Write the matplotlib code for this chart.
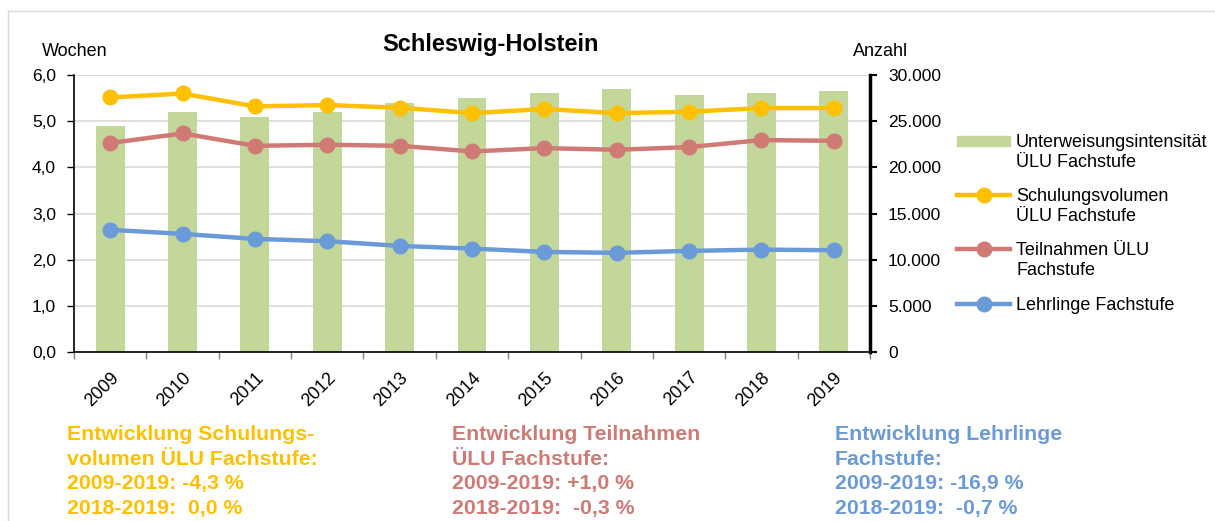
import numpy as np
import matplotlib
matplotlib.use("Agg")
import matplotlib.pyplot as plt
from matplotlib.lines import Line2D
from matplotlib.patches import Rectangle
from matplotlib.ticker import FuncFormatter

plt.rcParams["font.family"] = ["Liberation Sans", "DejaVu Sans"]

YEARS = [2009, 2010, 2011, 2012, 2013, 2014, 2015, 2016, 2017, 2018, 2019]
INTENSITAET = [4.9, 5.2, 5.1, 5.2, 5.4, 5.5, 5.6, 5.7, 5.57, 5.6, 5.65]
SCHULUNGSVOLUMEN = [27570, 28000, 26600, 26750, 26460, 25880, 26320, 25880, 26030, 26420, 26420]
TEILNAHMEN = [22640, 23680, 22340, 22450, 22340, 21730, 22090, 21910, 22200, 22960, 22880]
LEHRLINGE = [13250, 12810, 12270, 12020, 11510, 11220, 10860, 10760, 10970, 11110, 11040]

LEGEND_LABELS = [
    "Unterweisungsintensität\nÜLU Fachstufe",
    "Schulungsvolumen\nÜLU Fachstufe",
    "Teilnahmen ÜLU\nFachstufe",
    "Lehrlinge Fachstufe",
]
NOTES = [
    "Entwicklung Schulungs-\nvolumen ÜLU Fachstufe:\n2009-2019: -4,3 %\n2018-2019:  0,0 %",
    "Entwicklung Teilnahmen\nÜLU Fachstufe:\n2009-2019: +1,0 %\n2018-2019:  -0,3 %",
    "Entwicklung Lehrlinge\nFachstufe:\n2009-2019: -16,9 %\n2018-2019:  -0,7 %",
]

GREEN = "#C4D79B"
YELLOW = "#FFC000"
RED = "#D07A75"
BLUE = "#6A9BD8"

W, H = 1215, 521


def fx(px):
    return px / W


def fy(py):
    return 1 - py / H


fig = plt.figure(figsize=(W / 100, H / 100), dpi=100)
ax = fig.add_axes([fx(74), fy(352.3), fx(870) - fx(74), fy(75) - fy(352.3)])
ax2 = ax.twinx()

x = np.arange(len(YEARS))

# bars on the left axis (weeks)
ax.bar(x, INTENSITAET, width=0.4, color=GREEN, zorder=2)
ax.set_ylim(0, 6)
ax.set_xlim(-0.5, len(YEARS) - 0.5)
ax.set_yticks(np.arange(0, 6.1, 1))
ax.yaxis.set_major_formatter(FuncFormatter(lambda v, p: f"{v:.1f}".replace(".", ",")))
ax.grid(axis="y", color="#D9D9D9", linewidth=1.2, zorder=0)
ax.set_axisbelow(True)

# category boundaries as ticks, labels at centres
ax.set_xticks(np.arange(-0.5, len(YEARS), 1))
ax.set_xticklabels([])
ax.tick_params(axis="x", which="major", length=5, color="#808080", width=1)
ax.set_xticks(x, minor=True)
ax.set_xticklabels([str(y) for y in YEARS], minor=True, rotation=45,
                   ha="right", va="top", rotation_mode="anchor", fontsize=13)
ax.tick_params(axis="x", which="minor", length=0, pad=12)
ax.tick_params(axis="y", length=5, width=1, labelsize=12.5, pad=8)

for s in ["top", "right"]:
    ax.spines[s].set_visible(False)
ax.spines["left"].set_linewidth(1.2)
ax.spines["bottom"].set_linewidth(1.2)

# lines on the right axis (counts)
lw, ms = 3.2, 10.5
ax2.plot(x, SCHULUNGSVOLUMEN, color=YELLOW, lw=lw, marker="o", ms=ms, zorder=3)
ax2.plot(x, TEILNAHMEN, color=RED, lw=lw, marker="o", ms=ms, zorder=3)
ax2.plot(x, LEHRLINGE, color=BLUE, lw=lw, marker="o", ms=ms, zorder=3)
ax2.set_ylim(0, 30000)
ax2.set_yticks(np.arange(0, 30001, 5000))
ax2.yaxis.set_major_formatter(FuncFormatter(lambda v, p: f"{int(v):,}".replace(",", ".")))
ax2.tick_params(axis="y", length=5, width=1.5, labelsize=12.5, pad=8)
for s in ["top", "left", "bottom"]:
    ax2.spines[s].set_visible(False)
ax2.spines["right"].set_linewidth(2.5)

# titles and axis captions
fig.text(fx(491), fy(44), "Schleswig-Holstein", ha="center", va="center",
         fontsize=17, fontweight="bold")
fig.text(fx(42), fy(51), "Wochen", ha="left", va="center", fontsize=13)
fig.text(fx(853), fy(51), "Anzahl", ha="left", va="center", fontsize=13)

# legend drawn by hand so the markers sit next to the first text line
handle_y = [141, 195, 249, 304]
for i, (label, yy) in enumerate(zip(LEGEND_LABELS, handle_y)):
    if i == 0:
        fig.add_artist(Rectangle((fx(957), fy(yy + 5)), fx(1010) - fx(957), 10 / H,
                                 transform=fig.transFigure, color=GREEN))
    else:
        col = [YELLOW, RED, BLUE][i - 1]
        fig.add_artist(Line2D([fx(957), fx(1010)], [fy(yy), fy(yy)], color=col,
                              lw=lw, transform=fig.transFigure))
        fig.add_artist(Line2D([fx(983.5)], [fy(yy)], color=col, marker="o", ms=ms,
                              transform=fig.transFigure))
    fig.text(fx(1016), fy(yy - 7), label, ha="left", va="top", fontsize=13,
             linespacing=1.2)

# notes below the chart
for txt, col, xx in zip(NOTES, [YELLOW, RED, BLUE], [67, 452, 835]):
    fig.text(fx(xx), fy(425), txt, ha="left", va="top", fontsize=15.3,
             fontweight="bold", color=col, linespacing=1.38)

# light frame at top and left
fig.add_artist(Line2D([fx(8), 1], [fy(10.5), fy(10.5)], color="#D9D9D9", lw=1.0,
                      transform=fig.transFigure))
fig.add_artist(Line2D([fx(8), fx(8)], [fy(10.5), 0], color="#D9D9D9", lw=1.0,
                      transform=fig.transFigure))

fig.savefig("out.png", dpi=100)
